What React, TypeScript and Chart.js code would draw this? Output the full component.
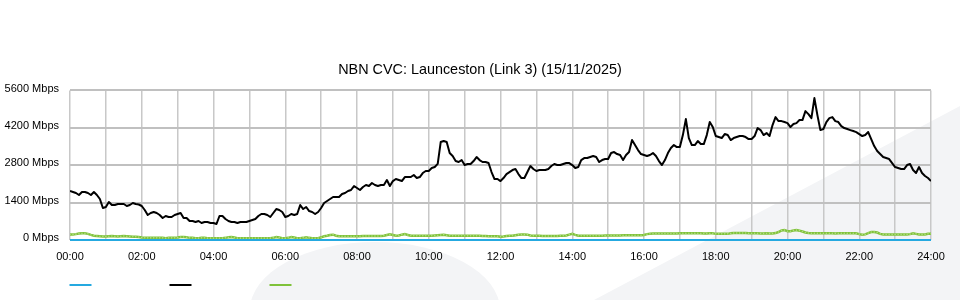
import React, { useEffect, useRef } from "react";
import { Chart, registerables } from "chart.js";

Chart.register(...registerables);

const chartTitle = "NBN CVC: Launceston (Link 3) (15/11/2025)";
const tickLabels = ["00:00", "02:00", "04:00", "06:00", "08:00", "10:00", "12:00", "14:00", "16:00", "18:00", "20:00", "22:00", "24:00"];
const yTicks = [0, 1400, 2800, 4200, 5600];
const stepMinutes = 5;

// Black series (Mbps), 5-minute samples, one row per hour
const blackMbps = [
  1834, 1797, 1759, 1685, 1797, 1797, 1759, 1685, 1797, 1685, 1535, 1198,
  1235, 1422, 1310, 1310, 1347, 1347, 1347, 1273, 1310, 1385, 1347, 1330,
  1273, 1123, 936, 1011, 1048, 1011, 936, 823, 898, 861, 861, 936,
  973, 1011, 823, 823, 711, 711, 674, 711, 636, 674, 674, 636,
  636, 599, 898, 898, 786, 711, 674, 674, 636, 674, 674, 674,
  711, 749, 786, 898, 973, 973, 936, 861, 1011, 1160, 1123, 1048,
  861, 898, 973, 936, 973, 1310, 1160, 1235, 1085, 1048, 973, 1048,
  1198, 1385, 1460, 1535, 1609, 1609, 1609, 1722, 1759, 1834, 1872, 2021,
  1946, 1872, 1984, 2059, 2021, 2134, 2059, 2021, 2059, 2059, 2246, 2021,
  2208, 2283, 2246, 2208, 2358, 2358, 2358, 2433, 2321, 2358, 2508, 2583,
  2583, 2695, 2732, 2850, 3668, 3706, 3668, 3256, 3144, 2957, 2920, 2994,
  2807, 2845, 2845, 2957, 3107, 2994, 2920, 2920, 2882, 2545, 2283, 2283,
  2208, 2321, 2470, 2545, 2620, 2658, 2470, 2321, 2321, 2545, 2770, 2658,
  2583, 2620, 2620, 2620, 2658, 2770, 2845, 2807, 2807, 2845, 2882, 2882,
  2807, 2695, 2732, 2994, 3069, 3069, 3107, 3144, 3107, 2920, 2994, 3032,
  3032, 3256, 3294, 3219, 3182, 2994, 3182, 3294, 3743, 3556, 3369, 3219,
  3182, 3144, 3182, 3256, 3144, 2957, 2807, 2994, 3256, 3444, 3556, 3481,
  3481, 3930, 4529, 3818, 3556, 3556, 3706, 3593, 3593, 3930, 4417, 4230,
  3893, 3855, 3818, 3968, 3930, 3743, 3818, 3855, 3893, 3893, 3855, 3780,
  3780, 3893, 4192, 4117, 3930, 4005, 3893, 4304, 4604, 4454, 4454, 4417,
  4379, 4230, 4342, 4379, 4492, 4492, 4828, 4716, 4566, 5315, 4679, 4117,
  4155, 4417, 4566, 4604, 4454, 4417, 4267, 4192, 4155, 4117, 4080, 4042,
  3968, 3893, 3930, 4042, 3780, 3518, 3331, 3219, 3107, 3069, 3032, 2882,
  2732, 2695, 2658, 2658, 2807, 2845, 2620, 2508, 2732, 2508, 2396, 2321,
  2208,
];

// Green series (Mbps)
const greenMbps = [
  210, 210, 220, 240, 250, 250, 230, 190, 160, 150, 140, 130,
  130, 140, 150, 140, 130, 140, 150, 140, 130, 120, 120, 110,
  90, 80, 80, 80, 80, 80, 80, 80, 70, 80, 80, 80,
  90, 110, 110, 100, 80, 80, 70, 70, 80, 80, 70, 70,
  70, 70, 70, 70, 80, 100, 110, 90, 70, 70, 70, 70,
  70, 70, 70, 70, 70, 70, 70, 70, 80, 110, 90, 70,
  70, 80, 110, 90, 70, 70, 80, 100, 80, 70, 70, 70,
  100, 140, 160, 190, 200, 160, 140, 140, 140, 140, 140, 140,
  140, 140, 150, 150, 150, 150, 150, 150, 150, 160, 190, 210,
  190, 160, 170, 200, 220, 190, 160, 160, 160, 160, 160, 160,
  160, 160, 170, 180, 190, 200, 180, 160, 160, 160, 160, 160,
  160, 160, 160, 160, 160, 160, 150, 150, 140, 140, 140, 140,
  120, 130, 150, 160, 160, 180, 200, 210, 210, 200, 170, 160,
  160, 160, 150, 150, 150, 150, 150, 150, 160, 160, 170, 200,
  230, 190, 160, 160, 160, 160, 160, 160, 160, 160, 160, 170,
  170, 170, 170, 170, 170, 180, 180, 180, 180, 180, 180, 180,
  190, 220, 230, 240, 240, 240, 240, 240, 240, 240, 240, 240,
  250, 250, 250, 250, 250, 250, 250, 250, 240, 240, 250, 250,
  230, 230, 230, 230, 230, 250, 260, 260, 260, 260, 260, 250,
  250, 250, 250, 240, 240, 250, 240, 240, 260, 300, 360, 370,
  330, 330, 360, 370, 350, 320, 280, 260, 250, 250, 250, 250,
  250, 250, 250, 250, 240, 250, 250, 250, 250, 250, 250, 250,
  220, 200, 210, 260, 300, 300, 280, 230, 210, 210, 210, 210,
  210, 210, 210, 210, 210, 220, 250, 230, 210, 210, 210, 230,
  230,
];

// Blue series (Mbps) - flat on zero
const blueMbps = [
  0, 0, 0, 0, 0, 0, 0, 0, 0, 0, 0, 0,
  0, 0, 0, 0, 0, 0, 0, 0, 0, 0, 0, 0,
  0, 0, 0, 0, 0, 0, 0, 0, 0, 0, 0, 0,
  0, 0, 0, 0, 0, 0, 0, 0, 0, 0, 0, 0,
  0, 0, 0, 0, 0, 0, 0, 0, 0, 0, 0, 0,
  0, 0, 0, 0, 0, 0, 0, 0, 0, 0, 0, 0,
  0, 0, 0, 0, 0, 0, 0, 0, 0, 0, 0, 0,
  0, 0, 0, 0, 0, 0, 0, 0, 0, 0, 0, 0,
  0, 0, 0, 0, 0, 0, 0, 0, 0, 0, 0, 0,
  0, 0, 0, 0, 0, 0, 0, 0, 0, 0, 0, 0,
  0, 0, 0, 0, 0, 0, 0, 0, 0, 0, 0, 0,
  0, 0, 0, 0, 0, 0, 0, 0, 0, 0, 0, 0,
  0, 0, 0, 0, 0, 0, 0, 0, 0, 0, 0, 0,
  0, 0, 0, 0, 0, 0, 0, 0, 0, 0, 0, 0,
  0, 0, 0, 0, 0, 0, 0, 0, 0, 0, 0, 0,
  0, 0, 0, 0, 0, 0, 0, 0, 0, 0, 0, 0,
  0, 0, 0, 0, 0, 0, 0, 0, 0, 0, 0, 0,
  0, 0, 0, 0, 0, 0, 0, 0, 0, 0, 0, 0,
  0, 0, 0, 0, 0, 0, 0, 0, 0, 0, 0, 0,
  0, 0, 0, 0, 0, 0, 0, 0, 0, 0, 0, 0,
  0, 0, 0, 0, 0, 0, 0, 0, 0, 0, 0, 0,
  0, 0, 0, 0, 0, 0, 0, 0, 0, 0, 0, 0,
  0, 0, 0, 0, 0, 0, 0, 0, 0, 0, 0, 0,
  0, 0, 0, 0, 0, 0, 0, 0, 0, 0, 0, 0,
  0,
];

const FONT = "'Liberation Sans', Arial, sans-serif";
const BLUE = "#25a9e0";
const BLACK = "#000000";
const GREEN = "#7fc23a";

const toPoints = (arr: number[]) => arr.map((v, i) => ({ x: i * stepMinutes, y: v }));

const watermarkPlugin = {
  id: "watermark",
  beforeDraw(chart: any) {
    const { ctx, width, height } = chart;
    ctx.save();
    ctx.fillStyle = "#f3f4f6";
    ctx.beginPath();
    ctx.moveTo(594, height);
    ctx.lineTo(width, 106);
    ctx.lineTo(width, height);
    ctx.closePath();
    ctx.fill();
    ctx.beginPath();
    ctx.ellipse(375, 310, 125, 68, 0, 0, Math.PI * 2);
    ctx.fill();
    ctx.restore();
  },
};

const lineLegendPlugin = {
  id: "lineLegend",
  afterDraw(chart: any) {
    const { ctx, chartArea } = chart;
    ctx.save();
    chart.data.datasets.forEach((ds: any, i: number) => {
      const x = chartArea.left - 0.5 + i * 100;
      ctx.strokeStyle = ds.borderColor;
      ctx.lineWidth = 2;
      ctx.beginPath();
      ctx.moveTo(x, 285);
      ctx.lineTo(x + 22, 285);
      ctx.stroke();
    });
    ctx.restore();
  },
};

export default function App() {
  const canvasRef = useRef<HTMLCanvasElement | null>(null);

  useEffect(() => {
    document.body.style.margin = "0";
    const canvas = canvasRef.current;
    if (!canvas) return;
    const chart = new Chart(canvas, {
      type: "line",
      data: {
        datasets: [
          {
            label: "",
            data: toPoints(blueMbps),
            borderColor: BLUE,
            backgroundColor: BLUE,
            borderWidth: 2,
            pointRadius: 0,
            tension: 0,
            clip: false as any,
          },
          {
            label: "",
            data: toPoints(blackMbps),
            borderColor: BLACK,
            backgroundColor: BLACK,
            borderWidth: 2,
            pointRadius: 0,
            tension: 0,
            borderJoinStyle: "round",
          },
          {
            label: "",
            data: toPoints(greenMbps),
            borderColor: GREEN,
            backgroundColor: GREEN,
            borderWidth: 2.5,
            pointRadius: 0.8,
            pointBorderWidth: 0,
            pointBackgroundColor: "#b3dc83",
            tension: 0,
          },
        ],
      },
      options: {
        animation: false,
        responsive: true,
        maintainAspectRatio: false,
        layout: { padding: 0 },
        plugins: {
          legend: { display: false },
          tooltip: { enabled: false },
          title: {
            display: true,
            text: chartTitle,
            color: "#000",
            font: { family: FONT, size: 14.4, weight: "normal" as any },
            padding: { top: 61, bottom: 12.2 },
          },
        },
        scales: {
          x: {
            type: "linear",
            min: 0,
            max: (tickLabels.length - 1) * 120,
            afterFit: (s: any) => {
              s.height = 60;
            },
            ticks: {
              stepSize: 60,
              maxTicksLimit: 100,
              autoSkip: false,
              maxRotation: 0,
              padding: 10,
              color: "#000",
              font: { family: FONT, size: 11 },
              callback: (v: any) => (Number(v) % 120 === 0 ? tickLabels[Number(v) / 120] : ""),
            },
            grid: { color: "#c8c8c8", lineWidth: 1.5, drawTicks: false, tickLength: 0 },
            border: { display: false },
          },
          y: {
            type: "linear",
            min: yTicks[0],
            max: yTicks[yTicks.length - 1],
            afterFit: (s: any) => {
              s.width = 70;
            },
            ticks: {
              stepSize: yTicks[1] - yTicks[0],
              padding: 11,
              labelOffset: -2,
              color: "#000",
              font: { family: FONT, size: 11 },
              callback: (v: any) => `${v} Mbps`,
            },
            grid: { color: "#c0c0c0", lineWidth: 2, drawTicks: false, tickLength: 0 },
            border: { display: false },
          },
          yRightSpace: {
            type: "linear",
            position: "right",
            min: yTicks[0],
            max: yTicks[yTicks.length - 1],
            afterFit: (s: any) => {
              s.width = 29;
            },
            ticks: { display: false },
            grid: { display: false, drawTicks: false },
            border: { display: false },
          },
        },
      },
      plugins: [watermarkPlugin, lineLegendPlugin],
    });
    return () => chart.destroy();
  }, []);

  return (
    <div style={{ width: 960, height: 300, position: "relative" }}>
      <canvas ref={canvasRef} />
    </div>
  );
}
